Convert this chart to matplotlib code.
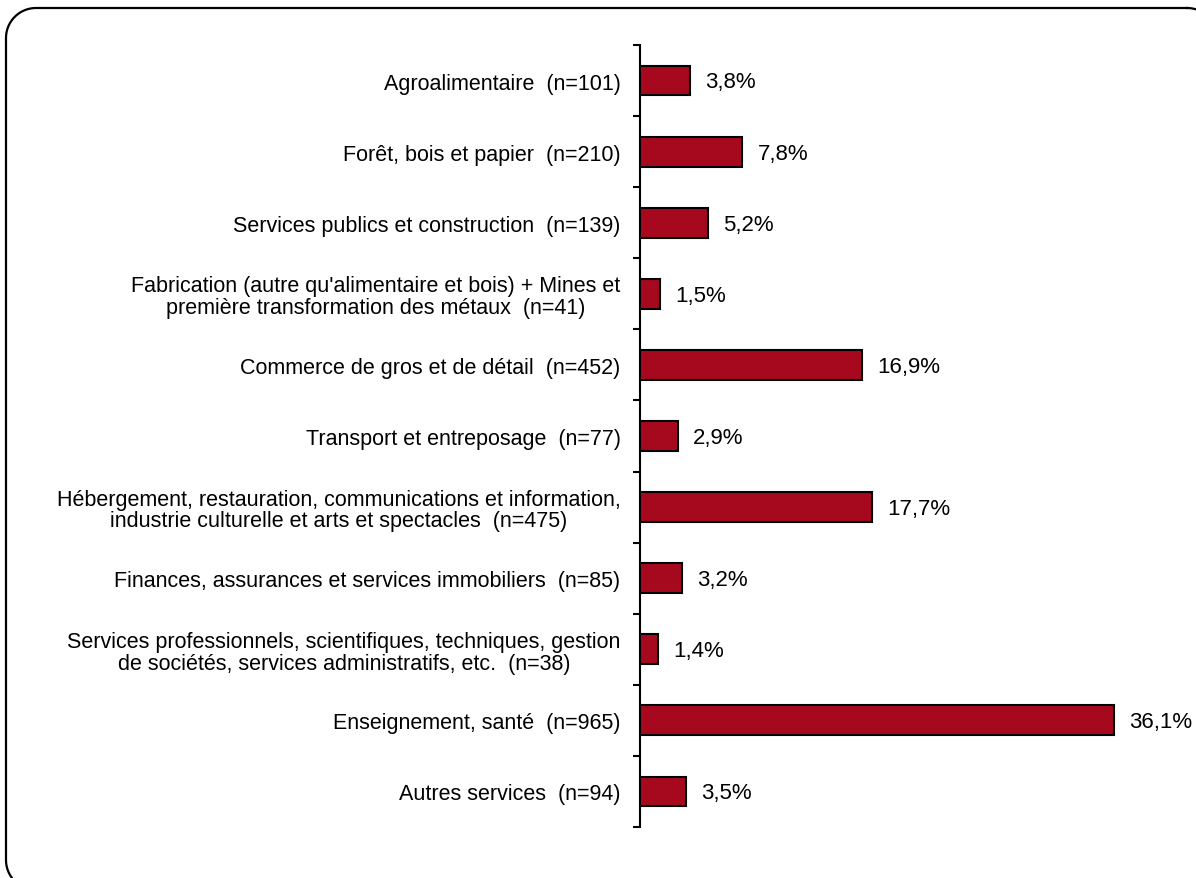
import matplotlib
matplotlib.use("Agg")
import numpy as np
import matplotlib.pyplot as plt
from matplotlib.lines import Line2D
from matplotlib.transforms import IdentityTransform

categories = [
    "Agroalimentaire  (n=101)",
    "Forêt, bois et papier  (n=210)",
    "Services publics et construction  (n=139)",
    "Fabrication (autre qu'alimentaire et bois) + Mines et\npremière transformation des métaux  (n=41)",
    "Commerce de gros et de détail  (n=452)",
    "Transport et entreposage  (n=77)",
    "Hébergement, restauration, communications et information,\nindustrie culturelle et arts et spectacles  (n=475)",
    "Finances, assurances et services immobiliers  (n=85)",
    "Services professionnels, scientifiques, techniques, gestion\nde sociétés, services administratifs, etc.  (n=38)",
    "Enseignement, santé  (n=965)",
    "Autres services  (n=94)",
]
values = [3.8, 7.8, 5.2, 1.5, 16.9, 2.9, 17.7, 3.2, 1.4, 36.1, 3.5]
value_labels = ["3,8%", "7,8%", "5,2%", "1,5%", "16,9%", "2,9%", "17,7%", "3,2%", "1,4%", "36,1%", "3,5%"]

plt.rcParams['font.family'] = ['Liberation Sans', 'DejaVu Sans']

W, H = 1196, 879
fig = plt.figure(figsize=(W / 100, H / 100), dpi=100)
ax = fig.add_axes([640 / W, 1 - 828 / H, 525 / W, (828 - 46) / H])

n = len(categories)
ypos = list(range(n))
ax.barh(ypos, values, height=0.42, color='#A6091E', edgecolor='black', linewidth=1.5, zorder=3)
for y, v, t in zip(ypos, values, value_labels):
    ax.annotate(t, xy=(v, y), xytext=(11, -1), textcoords='offset points',
                va='center', ha='left', fontsize=16, color='black')

ax.set_xlim(0, 40)
ax.set_ylim(n - 0.5, -0.5)
ax.set_yticks(ypos)
ax.set_yticklabels(categories, fontsize=15.5)
for lbl in ax.get_yticklabels():
    lbl.set_multialignment('center')
    lbl.set_linespacing(1.05)
ax.tick_params(axis='y', which='major', length=0, pad=14)
ax.set_yticks([i - 0.5 for i in range(n + 1)], minor=True)
ax.tick_params(axis='y', which='minor', length=5, width=1.5, direction='out')
ax.set_xticks([])
for s in ['top', 'right', 'bottom']:
    ax.spines[s].set_visible(False)
ax.spines['left'].set_linewidth(1.5)

# rounded border in pixel coordinates (display origin at bottom-left)
x0, x1 = 6, 1217
ytop, ybot = H - 9, H - 891
r = 30
def arc(cx, cy, a0, a1):
    t = np.linspace(np.radians(a0), np.radians(a1), 30)
    return list(cx + r * np.cos(t)), list(cy + r * np.sin(t))
xs, ys = [], []
for cx, cy, a0, a1 in [(x1 - r, ytop - r, 90, 0), (x1 - r, ybot + r, 0, -90),
                       (x0 + r, ybot + r, 270, 180), (x0 + r, ytop - r, 180, 90)]:
    ax_, ay_ = arc(cx, cy, a0, a1)
    xs += ax_
    ys += ay_
xs.append(xs[0])
ys.append(ys[0])
fig.add_artist(Line2D(xs, ys, transform=IdentityTransform(), color='black', linewidth=1.6,
                      solid_joinstyle='round'))

fig.savefig("out.png", dpi=100)
